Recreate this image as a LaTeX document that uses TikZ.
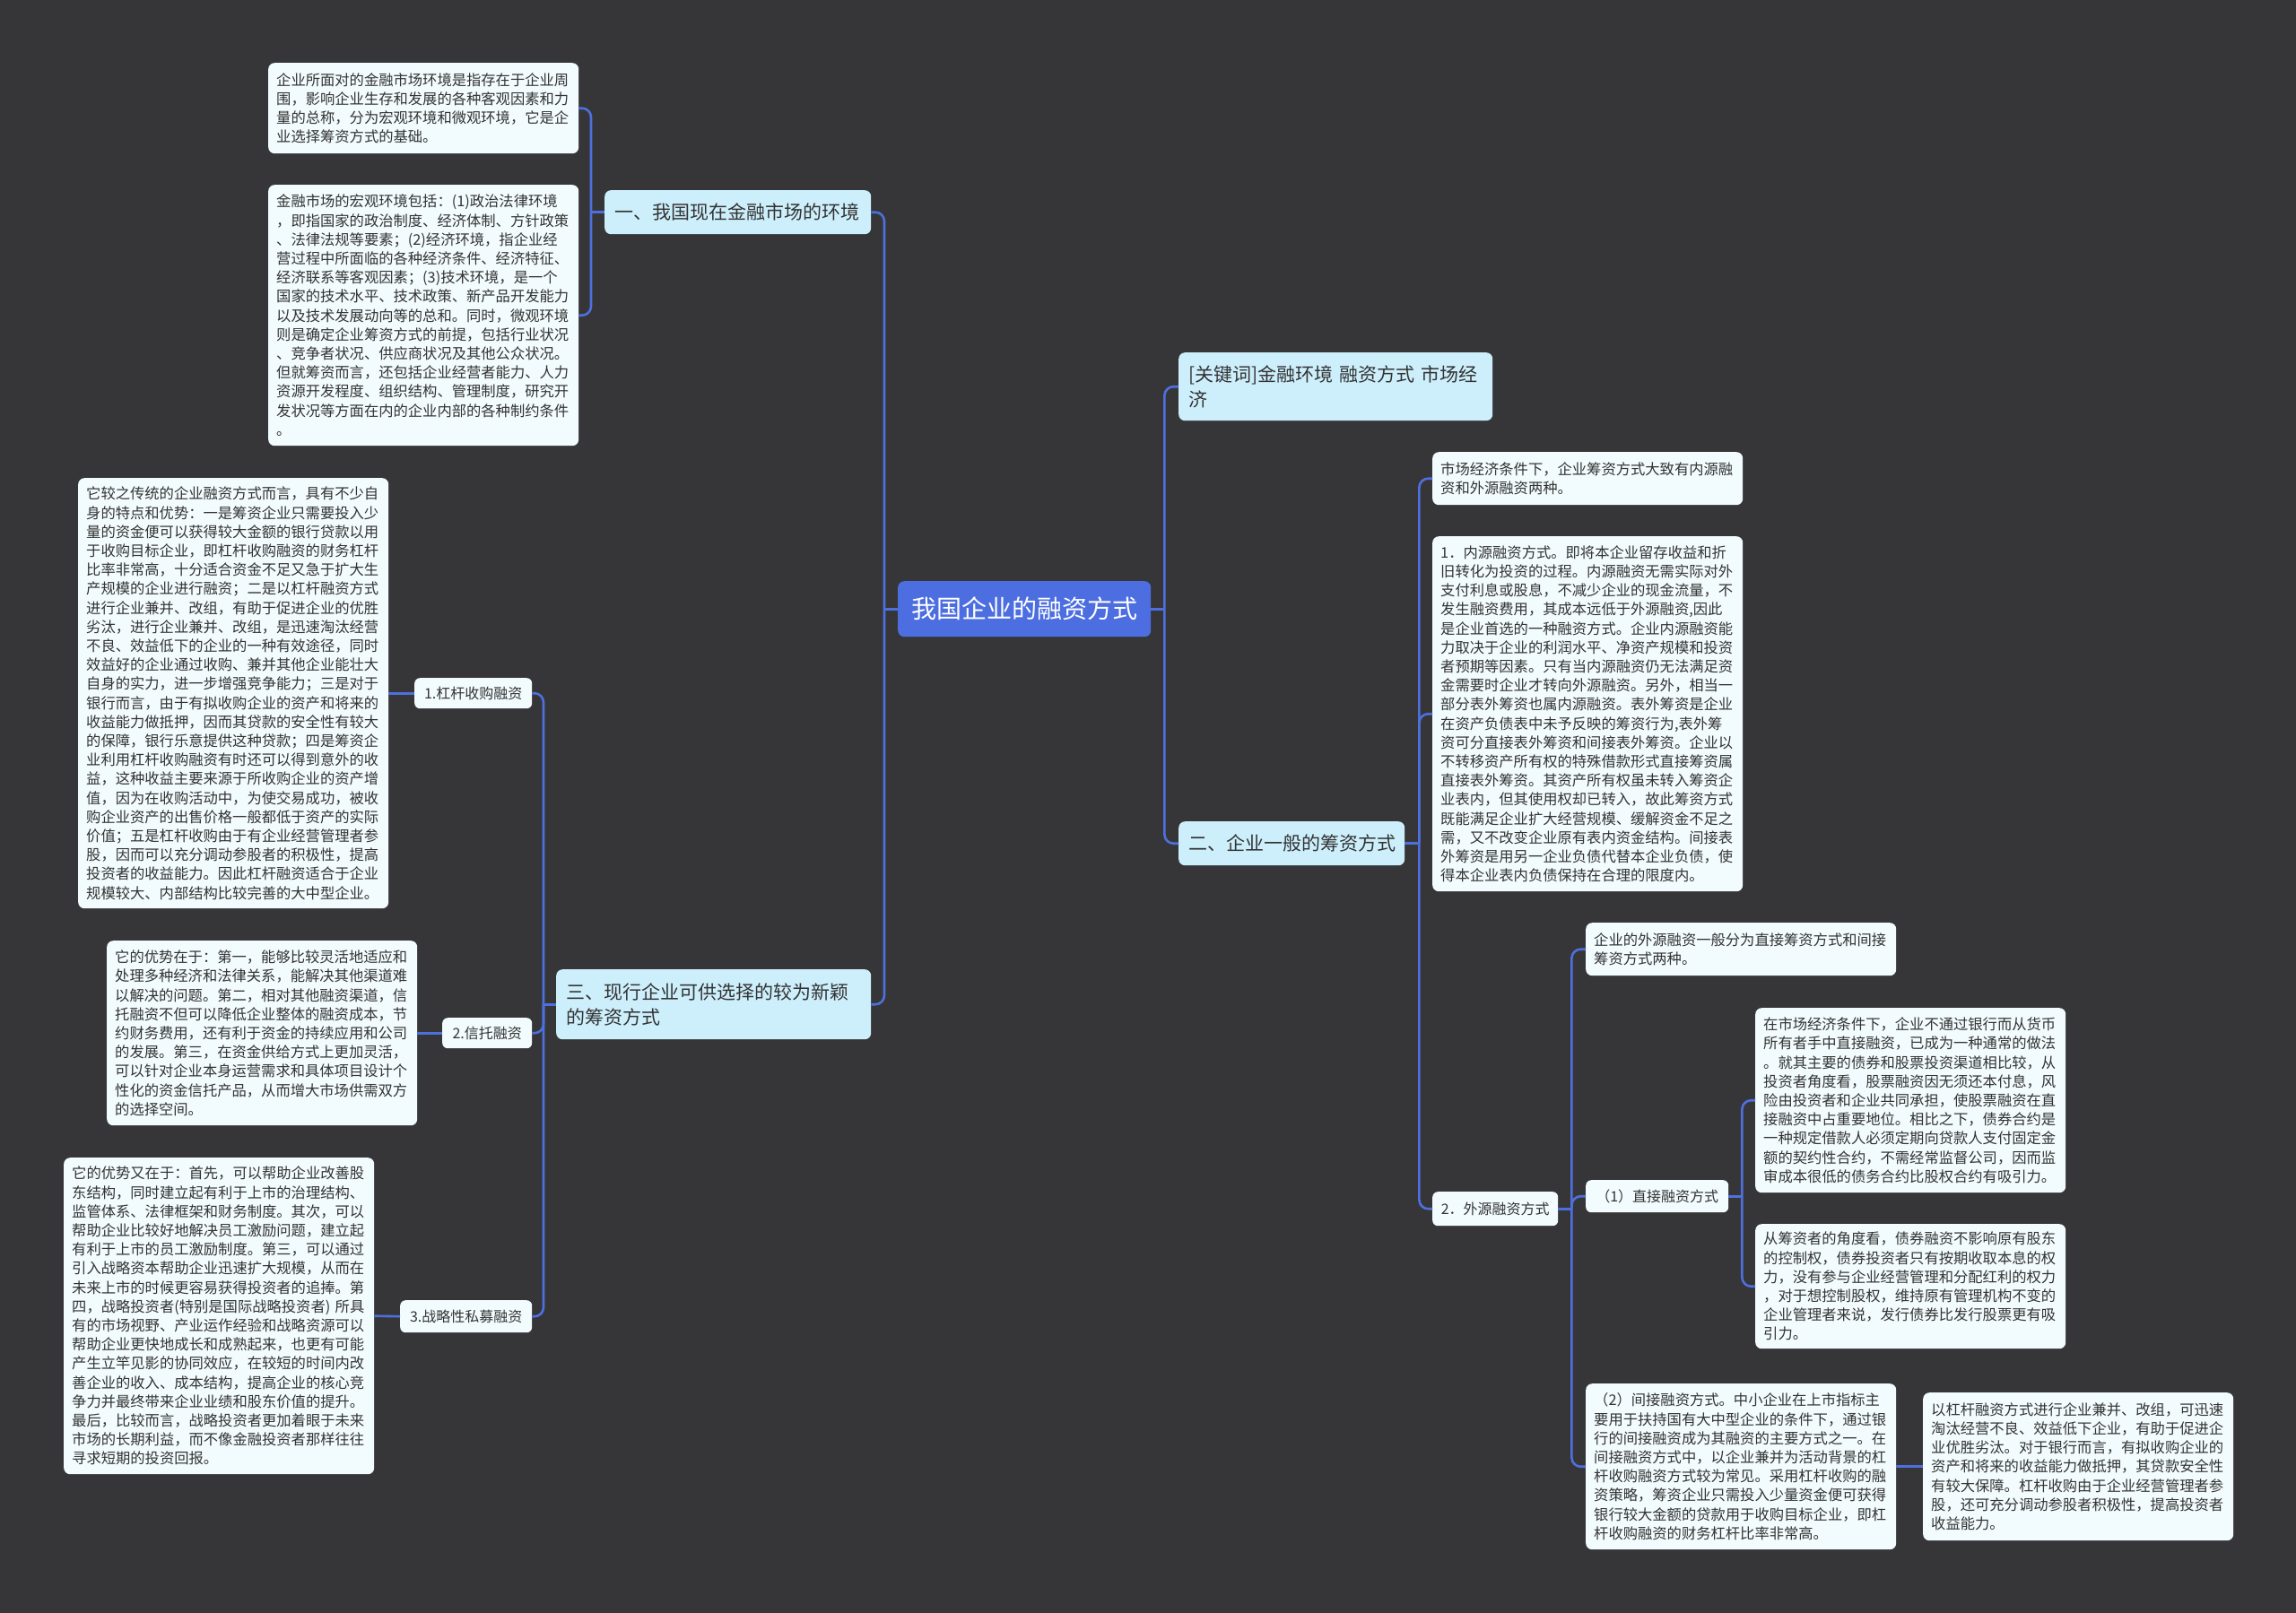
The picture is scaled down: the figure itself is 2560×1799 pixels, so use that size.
\documentclass[tikz,border=0pt]{standalone}
\usepackage{fontspec}
\setmainfont{Noto Sans CJK SC}
\usetikzlibrary{calc}
\definecolor{bgc}{RGB}{54,54,56}
\definecolor{rootc}{RGB}{76,110,224}
\definecolor{linec}{RGB}{78,112,222}
\definecolor{lonec}{RGB}{205,239,252}
\definecolor{leafc}{RGB}{242,251,254}
\definecolor{txt}{RGB}{51,51,51}
\begin{document}
\begin{tikzpicture}[x=1pt,y=-1pt,
  rootbox/.style={anchor=north west, fill=rootc, rounded corners=7pt, inner sep=0pt, text=white,
    font=\fontsize{28pt}{34pt}\selectfont, minimum width=282pt, minimum height=62pt},
  lone/.style={anchor=north west, fill=lonec, rounded corners=7pt, inner xsep=11pt, inner ysep=0pt,
    align=left, text=txt, font=\fontsize{21pt}{28pt}\selectfont},
  leaf/.style={anchor=north west, fill=leafc, rounded corners=7pt, inner xsep=9pt, inner ysep=0pt,
    align=left, text=txt, text width=328pt, font=\fontsize{16.3pt}{21.2pt}\selectfont},
  tag/.style={anchor=north west, fill=leafc, rounded corners=6pt, inner sep=0pt, text=txt,
    font=\fontsize{16pt}{20pt}\selectfont},
  conn/.style={draw=linec, line width=2.6pt, rounded corners=10pt}]
\useasboundingbox (0,0) rectangle (2560,1799);
\fill[bgc] (0,0) rectangle (2560,1799);

% root
\node[rootbox] (root) at (1001,648) {我国企业的融资方式};

% level one
\node[lone, text width=275pt, minimum height=49pt] (k1) at (674,212) {一、我国现在金融市场的环境};
\node[lone, text width=329pt, minimum height=78pt] (k3) at (620,1081) {三、现行企业可供选择的较为新颖\\的筹资方式};
\node[lone, text width=328pt, minimum height=76pt] (kw) at (1314,393) {[关键词]金融环境~融资方式~市场经\\济};
\node[lone, text width=230pt, minimum height=49pt] (k2) at (1314,916) {二、企业一般的筹资方式};

% tags
\node[tag, minimum width=131pt, minimum height=34pt] (t1) at (462,756) {1.杠杆收购融资};
\node[tag, minimum width=100pt, minimum height=34pt] (t2) at (493,1135) {2.信托融资};
\node[tag, minimum width=147pt, minimum height=36pt] (t3) at (446,1450) {3.战略性私募融资};
\node[tag, minimum width=140pt, minimum height=38pt] (t4) at (1597,1329) {2．外源融资方式};
\node[tag, minimum width=159pt, minimum height=36pt] (t5) at (1768,1316) {（1）直接融资方式};

% leaves left
\node[leaf, minimum height=101pt] (a1) at (299,70) {企业所面对的金融市场环境是指存在于企业周\\围，影响企业生存和发展的各种客观因素和力\\量的总称，分为宏观环境和微观环境，它是企\\业选择筹资方式的基础。};
\node[leaf, minimum height=291pt] (a2) at (299,206) {金融市场的宏观环境包括：(1)政治法律环境\\，即指国家的政治制度、经济体制、方针政策\\、法律法规等要素；(2)经济环境，指企业经\\营过程中所面临的各种经济条件、经济特征、\\经济联系等客观因素；(3)技术环境，是一个\\国家的技术水平、技术政策、新产品开发能力\\以及技术发展动向等的总和。同时，微观环境\\则是确定企业筹资方式的前提，包括行业状况\\、竞争者状况、供应商状况及其他公众状况。\\但就筹资而言，还包括企业经营者能力、人力\\资源开发程度、组织结构、管理制度，研究开\\发状况等方面在内的企业内部的各种制约条件\\。};
\node[leaf, minimum height=480pt] (c1) at (87,533) {它较之传统的企业融资方式而言，具有不少自\\身的特点和优势：一是筹资企业只需要投入少\\量的资金便可以获得较大金额的银行贷款以用\\于收购目标企业，即杠杆收购融资的财务杠杆\\比率非常高，十分适合资金不足又急于扩大生\\产规模的企业进行融资；二是以杠杆融资方式\\进行企业兼并、改组，有助于促进企业的优胜\\劣汰，进行企业兼并、改组，是迅速淘汰经营\\不良、效益低下的企业的一种有效途径，同时\\效益好的企业通过收购、兼并其他企业能壮大\\自身的实力，进一步增强竞争能力；三是对于\\银行而言，由于有拟收购企业的资产和将来的\\收益能力做抵押，因而其贷款的安全性有较大\\的保障，银行乐意提供这种贷款；四是筹资企\\业利用杠杆收购融资有时还可以得到意外的收\\益，这种收益主要来源于所收购企业的资产增\\值，因为在收购活动中，为使交易成功，被收\\购企业资产的出售价格一般都低于资产的实际\\价值；五是杠杆收购由于有企业经营管理者参\\股，因而可以充分调动参股者的积极性，提高\\投资者的收益能力。因此杠杆融资适合于企业\\规模较大、内部结构比较完善的大中型企业。};
\node[leaf, minimum height=206pt] (c2) at (119,1049) {它的优势在于：第一，能够比较灵活地适应和\\处理多种经济和法律关系，能解决其他渠道难\\以解决的问题。第二，相对其他融资渠道，信\\托融资不但可以降低企业整体的融资成本，节\\约财务费用，还有利于资金的持续应用和公司\\的发展。第三，在资金供给方式上更加灵活，\\可以针对企业本身运营需求和具体项目设计个\\性化的资金信托产品，从而增大市场供需双方\\的选择空间。};
\node[leaf, minimum height=353pt] (c3) at (71,1291) {它的优势又在于：首先，可以帮助企业改善股\\东结构，同时建立起有利于上市的治理结构、\\监管体系、法律框架和财务制度。其次，可以\\帮助企业比较好地解决员工激励问题，建立起\\有利于上市的员工激励制度。第三，可以通过\\引入战略资本帮助企业迅速扩大规模，从而在\\未来上市的时候更容易获得投资者的追捧。第\\四，战略投资者(特别是国际战略投资者)~所具\\有的市场视野、产业运作经验和战略资源可以\\帮助企业更快地成长和成熟起来，也更有可能\\产生立竿见影的协同效应，在较短的时间内改\\善企业的收入、成本结构，提高企业的核心竞\\争力并最终带来企业业绩和股东价值的提升。\\最后，比较而言，战略投资者更加着眼于未来\\市场的长期利益，而不像金融投资者那样往往\\寻求短期的投资回报。};

% leaves right
\node[leaf, minimum height=59pt] (r1) at (1597,504) {市场经济条件下，企业筹资方式大致有内源融\\资和外源融资两种。};
\node[leaf, minimum height=396pt] (r2) at (1597,598) {1．内源融资方式。即将本企业留存收益和折\\旧转化为投资的过程。内源融资无需实际对外\\支付利息或股息，不减少企业的现金流量，不\\发生融资费用，其成本远低于外源融资,因此\\是企业首选的一种融资方式。企业内源融资能\\力取决于企业的利润水平、净资产规模和投资\\者预期等因素。只有当内源融资仍无法满足资\\金需要时企业才转向外源融资。另外，相当一\\部分表外筹资也属内源融资。表外筹资是企业\\在资产负债表中未予反映的筹资行为,表外筹\\资可分直接表外筹资和间接表外筹资。企业以\\不转移资产所有权的特殊借款形式直接筹资属\\直接表外筹资。其资产所有权虽未转入筹资企\\业表内，但其使用权却已转入，故此筹资方式\\既能满足企业扩大经营规模、缓解资金不足之\\需，又不改变企业原有表内资金结构。间接表\\外筹资是用另一企业负债代替本企业负债，使\\得本企业表内负债保持在合理的限度内。};
\node[leaf, minimum height=59pt] (r3) at (1768,1029) {企业的外源融资一般分为直接筹资方式和间接\\筹资方式两种。};
\node[leaf, minimum height=206pt] (r4) at (1957,1124) {在市场经济条件下，企业不通过银行而从货币\\所有者手中直接融资，已成为一种通常的做法\\。就其主要的债券和股票投资渠道相比较，从\\投资者角度看，股票融资因无须还本付息，风\\险由投资者和企业共同承担，使股票融资在直\\接融资中占重要地位。相比之下，债券合约是\\一种规定借款人必须定期向贷款人支付固定金\\额的契约性合约，不需经常监督公司，因而监\\审成本很低的债务合约比股权合约有吸引力。};
\node[leaf, minimum height=139pt] (r5) at (1957,1365) {从筹资者的角度看，债券融资不影响原有股东\\的控制权，债券投资者只有按期收取本息的权\\力，没有参与企业经营管理和分配红利的权力\\，对于想控制股权，维持原有管理机构不变的\\企业管理者来说，发行债券比发行股票更有吸\\引力。};
\node[leaf, minimum height=185pt] (r6) at (1768,1543) {（2）间接融资方式。中小企业在上市指标主\\要用于扶持国有大中型企业的条件下，通过银\\行的间接融资成为其融资的主要方式之一。在\\间接融资方式中，以企业兼并为活动背景的杠\\杆收购融资方式较为常见。采用杠杆收购的融\\资策略，筹资企业只需投入少量资金便可获得\\银行较大金额的贷款用于收购目标企业，即杠\\杆收购融资的财务杠杆比率非常高。};
\node[leaf, minimum height=165pt] (r7) at (2144,1553) {以杠杆融资方式进行企业兼并、改组，可迅速\\淘汰经营不良、效益低下企业，有助于促进企\\业优胜劣汰。对于银行而言，有拟收购企业的\\资产和将来的收益能力做抵押，其贷款安全性\\有较大保障。杠杆收购由于企业经营管理者参\\股，还可充分调动参股者积极性，提高投资者\\收益能力。};

% connectors
\coordinate (bL) at ($(root.west)+(-15,0)$);
\coordinate (bR) at ($(root.east)+(15,0)$);
\coordinate (b1) at ($(k1.west)+(-15,0)$);
\coordinate (b3) at ($(k3.west)+(-14,0)$);
\coordinate (b2) at ($(k2.east)+(16,0)$);
\coordinate (b4) at ($(t4.east)+(15,0)$);
\coordinate (b5) at ($(t5.east)+(15,0)$);

\draw[conn] (root.west) -- (bL);
\draw[conn] (bL) |- (k1.east);
\draw[conn] (bL) |- (k3.east);
\draw[conn] (root.east) -- (bR);
\draw[conn] (bR) |- (kw.west);
\draw[conn] (bR) |- (k2.west);

\draw[conn] (k1.west) -- (b1);
\draw[conn] (b1) |- (a1.east);
\draw[conn] (b1) |- (a2.east);

\draw[conn] (k3.west) -- (b3);
\draw[conn] (b3) |- (t1.east);
\draw[conn] (b3) |- (t2.east);
\draw[conn] (b3) |- (t3.east);
\draw[conn] (t1.west) -- (c1.east);
\draw[conn] (t2.west) -- (c2.east);
\draw[conn] (t3.west) -- (c3.east);

\draw[conn] (k2.east) -- (b2);
\draw[conn] (b2) |- (r1.west);
\draw[conn] (b2) |- (r2.west);
\draw[conn] (b2) |- (t4.west);

\draw[conn] (t4.east) -- (b4);
\draw[conn] (b4) |- (r3.west);
\draw[conn] (b4) |- (t5.west);
\draw[conn] (b4) |- (r6.west);

\draw[conn] (t5.east) -- (b5);
\draw[conn] (b5) |- (r4.west);
\draw[conn] (b5) |- (r5.west);

\draw[conn] (r6.east) -- (r7.west);
\end{tikzpicture}
\end{document}
